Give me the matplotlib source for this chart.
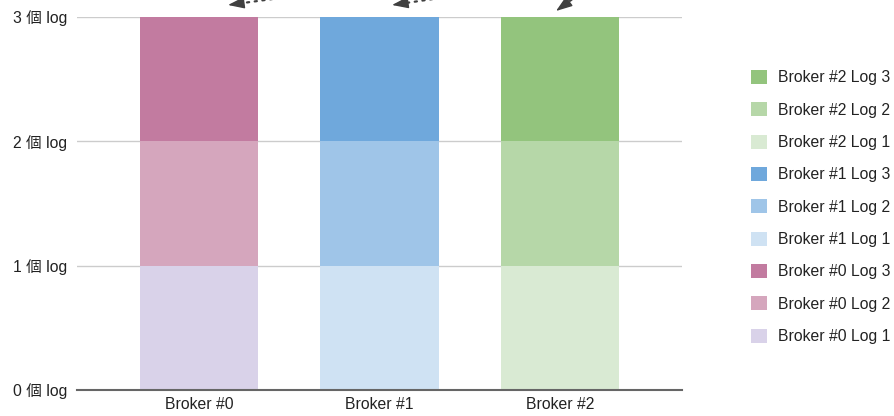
import matplotlib.pyplot as plt
import numpy as np

plt.rcParams['font.family'] = ['Liberation Sans', 'Noto Sans CJK TC', 'DejaVu Sans']

brokers = ["Broker #0", "Broker #1", "Broker #2"]
series_names = [
    "Broker #0 Log 1", "Broker #0 Log 2", "Broker #0 Log 3",
    "Broker #1 Log 1", "Broker #1 Log 2", "Broker #1 Log 3",
    "Broker #2 Log 1", "Broker #2 Log 2", "Broker #2 Log 3",
]
series_values = [
    [1, 0, 0], [1, 0, 0], [1, 0, 0],
    [0, 1, 0], [0, 1, 0], [0, 1, 0],
    [0, 0, 1], [0, 0, 1], [0, 0, 1],
]
colors = [
    "#d9d2e9", "#d5a6bd", "#c27ba0",
    "#cfe2f3", "#9fc5e8", "#6fa8dc",
    "#d9ead3", "#b6d7a8", "#93c47d",
]
yticks = [0, 1, 2, 3]
ytick_labels = [f"{v} 個 log" for v in yticks]

fig = plt.figure(figsize=(8.94, 4.16), dpi=100)
ax = fig.add_axes([77 / 894, 26 / 416, 605 / 894, 373 / 416])

x = np.arange(len(brokers))
bottom = np.zeros(len(brokers))
handles = []
for name, vals, c in zip(series_names, series_values, colors):
    vals = np.array(vals, dtype=float)
    h = ax.bar(x, vals, width=0.654, bottom=bottom, color=c, label=name, zorder=2)
    bottom += vals
    handles.append(h)

fs = 11.3
ax.set_xlim(-0.676, 2.676)
ax.set_ylim(0, 3)
ax.set_yticks(yticks)
ax.set_yticklabels(ytick_labels)
ax.set_xticks(x)
ax.set_xticklabels(brokers)
ax.tick_params(axis='both', length=0, labelsize=fs, colors="#222222")
ax.tick_params(axis='y', pad=7)
ax.tick_params(axis='x', pad=5)
ax.grid(axis='y', color="#cccccc", linewidth=1, zorder=0)
for s in ["left", "right", "top"]:
    ax.spines[s].set_visible(False)
ax.spines["bottom"].set_color("#666666")
ax.spines["bottom"].set_linewidth(1.5)
ax.spines["bottom"].set_zorder(3)

leg = fig.legend(handles[::-1], series_names[::-1], loc="upper left",
                 bbox_to_anchor=(751 / 894, 1 - 70 / 416), frameon=False,
                 fontsize=fs, handlelength=1.0, handleheight=1.0,
                 labelspacing=1.08, handletextpad=0.7, borderaxespad=0,
                 borderpad=0)
for t in leg.get_texts():
    t.set_color("#222222")

# dotted arrows coming in from above the figure
arrows = [((228, 411), (280, 418)), ((392, 411), (440, 418)), ((556, 405), (578, 421))]
for tip, tail in arrows:
    d = np.array(tail, float) - np.array(tip, float)
    mid = np.array(tip) + d / np.linalg.norm(d) * 14
    fig.add_artist(plt.Annotation("", xy=tuple(mid), xycoords="figure pixels", xytext=tail,
                                  textcoords="figure pixels", annotation_clip=False,
                                  arrowprops=dict(arrowstyle="-", color="#404040",
                                                  linestyle=(0, (1, 2.5)), linewidth=1.6,
                                                  shrinkA=0, shrinkB=0)))
    fig.add_artist(plt.Annotation("", xy=tip, xycoords="figure pixels", xytext=tuple(mid),
                                  textcoords="figure pixels", annotation_clip=False,
                                  arrowprops=dict(arrowstyle="-|>,head_length=1.0,head_width=0.35",
                                                  color="#404040", linewidth=1,
                                                  shrinkA=0, shrinkB=0)))

fig.savefig("out.png", dpi=100)
